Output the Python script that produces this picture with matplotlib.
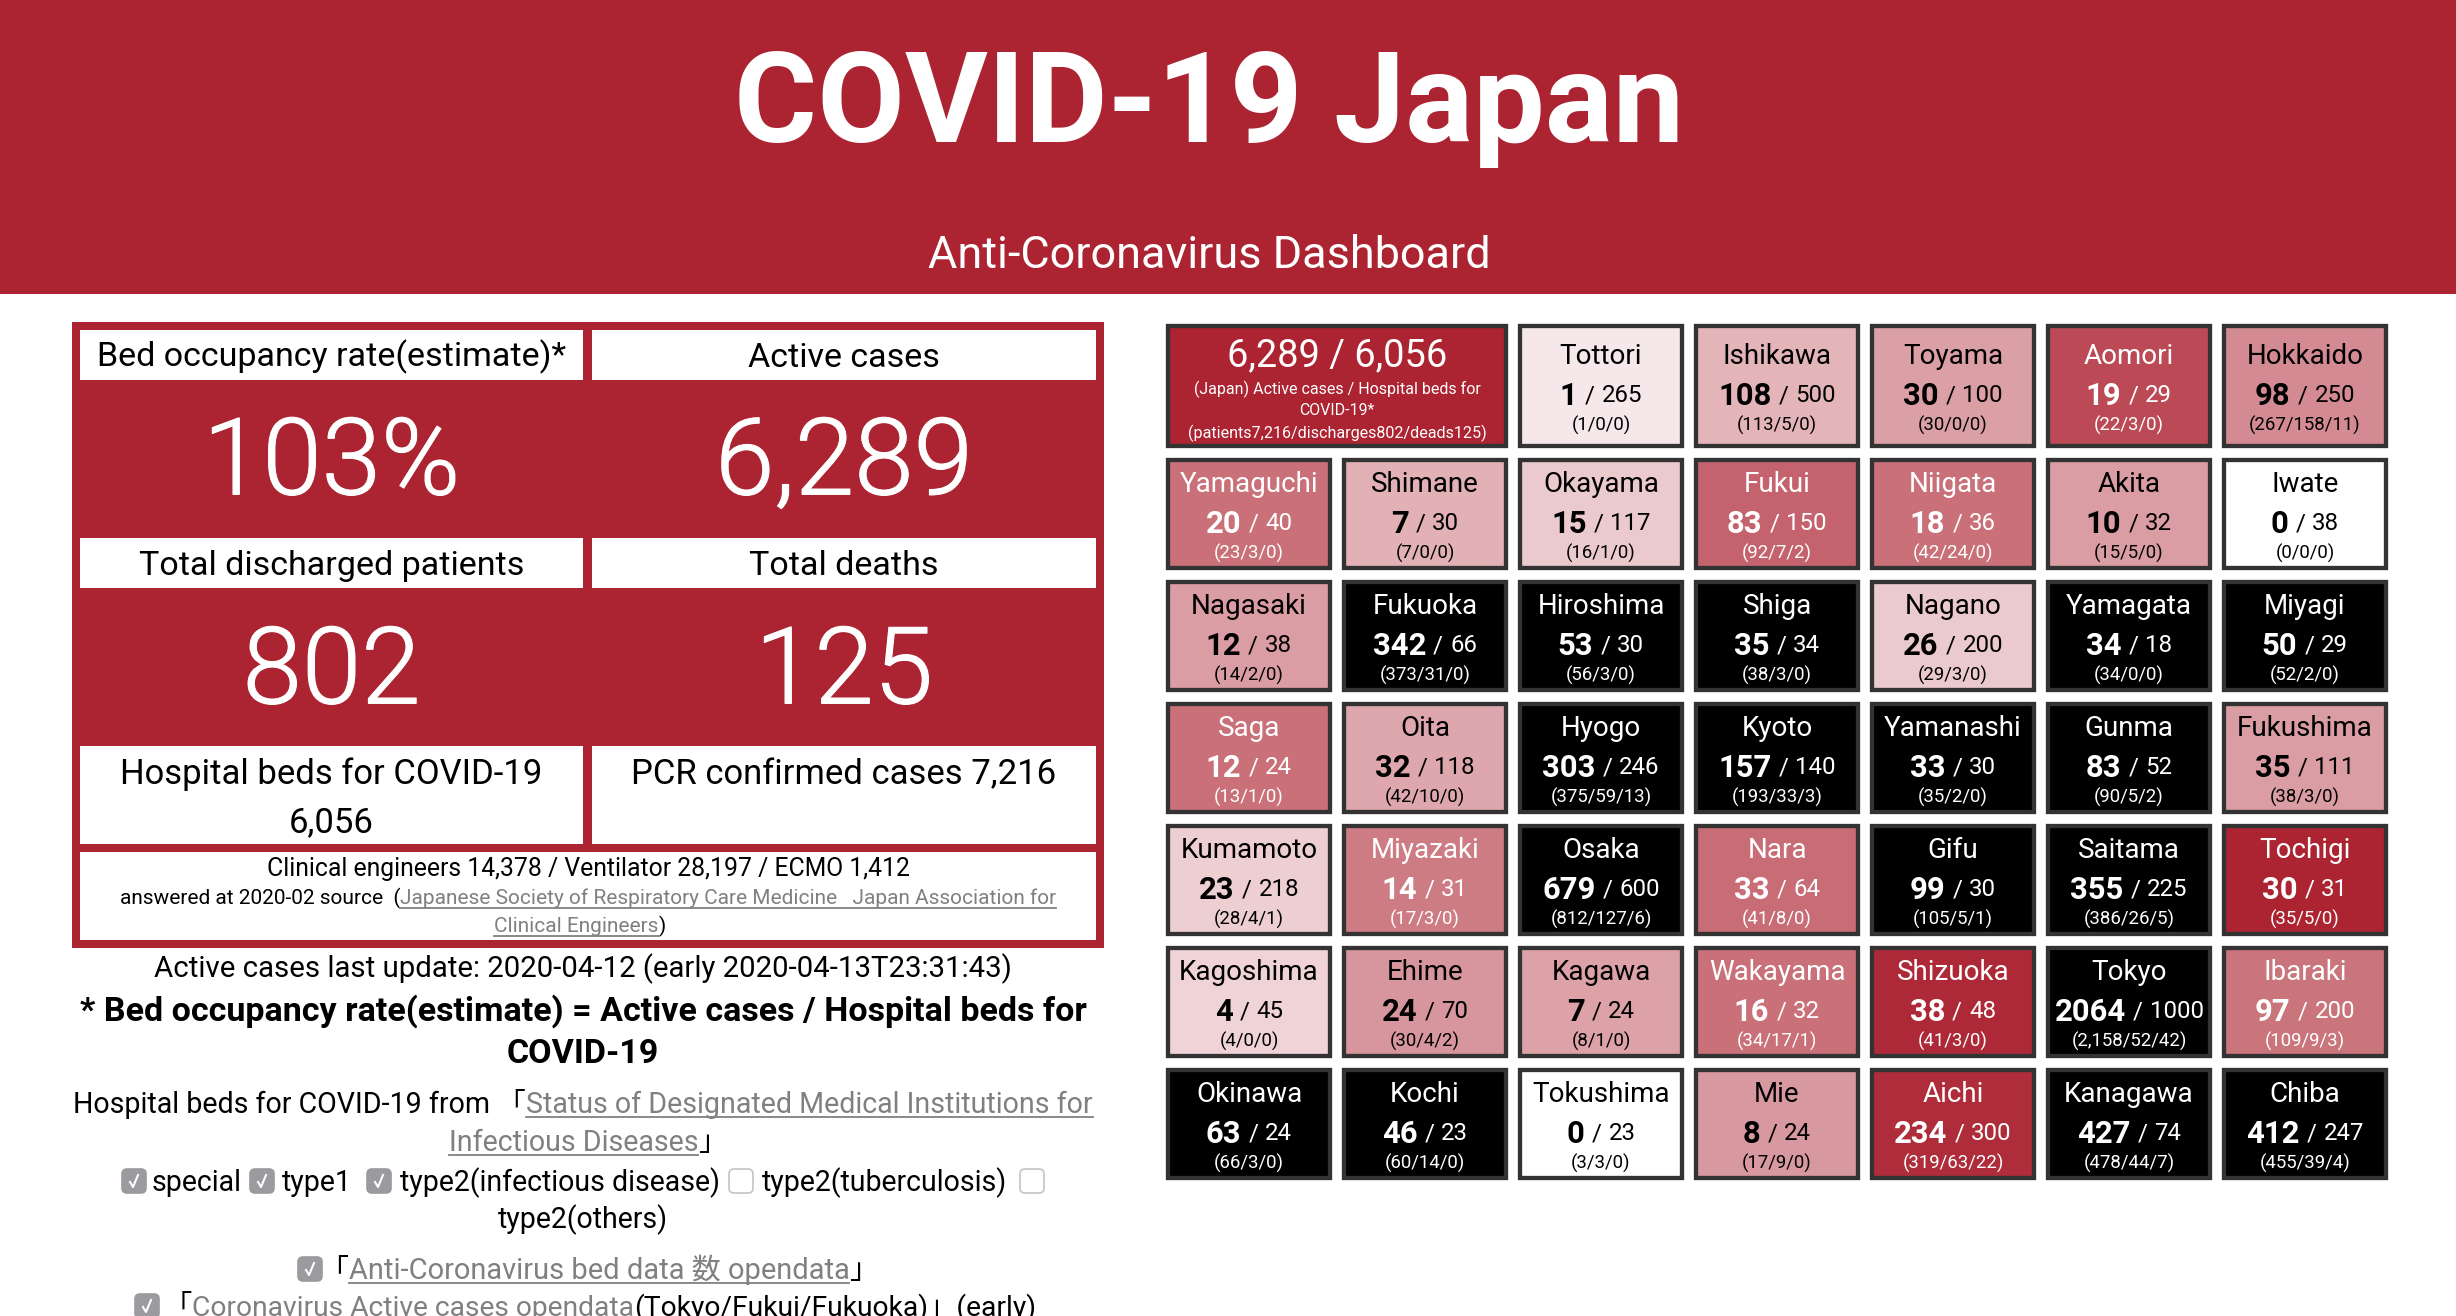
import matplotlib
matplotlib.use('Agg')
import matplotlib.pyplot as plt
import matplotlib.patheffects as pe
from matplotlib.patches import Rectangle, FancyBboxPatch

# prefecture tiles, row by row as on the page
names = [
    ['Tottori', 'Ishikawa', 'Toyama', 'Aomori', 'Hokkaido'],
    ['Yamaguchi', 'Shimane', 'Okayama', 'Fukui', 'Niigata', 'Akita', 'Iwate'],
    ['Nagasaki', 'Fukuoka', 'Hiroshima', 'Shiga', 'Nagano', 'Yamagata', 'Miyagi'],
    ['Saga', 'Oita', 'Hyogo', 'Kyoto', 'Yamanashi', 'Gunma', 'Fukushima'],
    ['Kumamoto', 'Miyazaki', 'Osaka', 'Nara', 'Gifu', 'Saitama', 'Tochigi'],
    ['Kagoshima', 'Ehime', 'Kagawa', 'Wakayama', 'Shizuoka', 'Tokyo', 'Ibaraki'],
    ['Okinawa', 'Kochi', 'Tokushima', 'Mie', 'Aichi', 'Kanagawa', 'Chiba'],
]
active = [
    [1, 108, 30, 19, 98],
    [20, 7, 15, 83, 18, 10, 0],
    [12, 342, 53, 35, 26, 34, 50],
    [12, 32, 303, 157, 33, 83, 35],
    [23, 14, 679, 33, 99, 355, 30],
    [4, 24, 7, 16, 38, 2064, 97],
    [63, 46, 0, 8, 234, 427, 412],
]
beds = [
    [265, 500, 100, 29, 250],
    [40, 30, 117, 150, 36, 32, 38],
    [38, 66, 30, 34, 200, 18, 29],
    [24, 118, 246, 140, 30, 52, 111],
    [218, 31, 600, 64, 30, 225, 31],
    [45, 70, 24, 32, 48, 1000, 200],
    [24, 23, 23, 24, 300, 74, 247],
]
details = [
    ['1/0/0', '113/5/0', '30/0/0', '22/3/0', '267/158/11'],
    ['23/3/0', '7/0/0', '16/1/0', '92/7/2', '42/24/0', '15/5/0', '0/0/0'],
    ['14/2/0', '373/31/0', '56/3/0', '38/3/0', '29/3/0', '34/0/0', '52/2/0'],
    ['13/1/0', '42/10/0', '375/59/13', '193/33/3', '35/2/0', '90/5/2', '38/3/0'],
    ['28/4/1', '17/3/0', '812/127/6', '41/8/0', '105/5/1', '386/26/5', '35/5/0'],
    ['4/0/0', '30/4/2', '8/1/0', '34/17/1', '41/3/0', '2,158/52/42', '109/9/3'],
    ['66/3/0', '60/14/0', '3/3/0', '17/9/0', '319/63/22', '478/44/7', '455/39/4'],
]

stat_labels = ['Bed occupancy rate(estimate)*', 'Active cases', 'Total discharged patients', 'Total deaths']
stat_values = ['103%', '6,289', '802', '125']

RED = '#ac2331'
EDGE = '#333333'
GREY = '#808080'
SANS = ['Roboto', 'Noto Sans CJK JP', 'DejaVu Sans']

fig = plt.figure(figsize=(24.56, 13.16), dpi=100)
ax = fig.add_axes([0, 0, 1, 1])
ax.set_xlim(0, 2456)
ax.set_ylim(1316, 0)
ax.axis('off')
renderer = fig.canvas.get_renderer()


def box(x0, y0, x1, y1, color, z=1):
    ax.add_patch(Rectangle((x0, y0), x1 - x0, y1 - y0, facecolor=color, edgecolor='none', zorder=z))


def put(x, y, s, px, color='black', weight='normal', ha='center', family=None):
    # y is the middle of the capitals, size in pixels
    return ax.text(x, y + 0.34 * px, s, fontsize=px * 0.72, color=color, fontweight=weight, ha=ha,
                   va='baseline', family=family or SANS, zorder=5)


def runs(xc, y, parts, gap=0):
    # parts: (text, px, color, weight, underline), laid out centred on xc
    items = []
    total = 0
    for text, px, color, weight, line in parts:
        t = put(0, y, text, px, color, weight, ha='left')
        w = t.get_window_extent(renderer).width
        items.append((t, w, px, color, line))
        total += w
    total += gap * (len(parts) - 1)
    x = xc - total / 2
    for t, w, px, color, line in items:
        t.set_x(x)
        if line:
            ax.plot([x, x + w], [y + 0.36 * px + 3.5] * 2, color=color, lw=1.3, zorder=5)
        x += w + gap


def checkbox(x, y, on=True):
    fc = '#9a9a9f' if on else 'white'
    ax.add_patch(FancyBboxPatch((x + 3, y - 9), 18, 18, boxstyle='round,pad=3,rounding_size=5',
                                facecolor=fc, edgecolor='#c4c4c4' if not on else fc, lw=1.2, zorder=5))
    if on:
        ax.plot([x + 8, x + 11, x + 16], [y + 1, y + 6, y - 6], color='white', lw=1.5, zorder=6)


# page header
box(0, 0, 2456, 294, RED)
put(1209, 99, 'COVID-19 Japan', 127, 'white', 'bold')
put(1209, 253, 'Anti-Coronavirus Dashboard', 45, 'white')

# left panel
box(72, 322, 1104, 948, RED)
col_x = [(80, 583), (592, 1096)]
label_rows = [(330, 380), (538, 588)]
value_y = [458, 667]
for i in range(2):
    for j in range(2):
        x0, x1 = col_x[j]
        y0, y1 = label_rows[i]
        box(x0, y0, x1, y1, 'white', 2)
        put((x0 + x1) / 2, (y0 + y1) / 2, stat_labels[i * 2 + j], 34)
        v = put((x0 + x1) / 2, value_y[i], stat_values[i * 2 + j], 107, 'white', 300)
        v.set_path_effects([pe.withStroke(linewidth=0.8, foreground='white')])
box(80, 746, 583, 844, 'white', 2)
box(592, 746, 1096, 844, 'white', 2)
put(331, 772, 'Hospital beds for COVID-19', 34.7)
put(331, 820, '6,056', 34.7)
put(844, 772, 'PCR confirmed cases 7,216', 34.7)
box(80, 852, 1096, 940, 'white', 2)
put(588, 868, 'Clinical engineers 14,378 / Ventilator 28,197 / ECMO 1,412', 24.8)
runs(588, 897, [('answered at 2020-02 source \u00a0(', 20.9, 'black', 'normal', False),
                ('Japanese Society of Respiratory Care Medicine \u00a0 Japan Association for', 20.9, GREY, 'normal', True)])
runs(580, 925, [('Clinical Engineers', 20.9, GREY, 'normal', True), (')', 20.9, 'black', 'normal', False)])

put(583, 967, 'Active cases last update: 2020-04-12 (early 2020-04-13T23:31:43)', 29.4)
put(583, 1009, '* Bed occupancy rate(estimate) = Active cases / Hospital beds for', 34, weight='bold')
put(583, 1051, 'COVID-19', 34, weight='bold')
runs(583, 1103, [('Hospital beds for COVID-19 from \u300c', 28.6, 'black', 'normal', False),
                 ('Status of Designated Medical Institutions for', 28.6, GREY, 'normal', True)])
runs(588, 1141, [('Infectious Diseases', 28.6, GREY, 'normal', True), ('\u300d', 28.6, 'black', 'normal', False)])

for x, on in [(122, True), (250, True), (367, True), (729, False), (1020, False)]:
    checkbox(x, 1181, on)
put(152, 1181, 'special', 28.5, ha='left')
put(282, 1181, 'type1', 28.5, ha='left')
put(400, 1181, 'type2(infectious disease)', 28.5, ha='left')
put(762, 1181, 'type2(tuberculosis)', 28.5, ha='left')
put(583, 1218, 'type2(others)', 28.5)

checkbox(298, 1269)
runs(599, 1269, [('\u300c', 29, 'black', 'normal', False),
                 ('Anti-Coronavirus bed data \u6570 opendata', 29, GREY, 'normal', True),
                 ('\u300d', 29, 'black', 'normal', False)])
checkbox(135, 1306)
runs(600, 1306, [('\u300c', 28.3, 'black', 'normal', False),
                 ('Coronavirus Active cases opendata', 28.3, GREY, 'normal', True),
                 ('(Tokyo/Fukui/Fukuoka)\u300d(early)', 28.3, 'black', 'normal', False)])

# tiles
X0, PITCH_X, W = 1166, 176, 166
Y_ROWS = [324, 458, 580, 702, 824, 946, 1068]
H = 112


def tile(x0, y0, x1, y1, face):
    ax.add_patch(Rectangle((x0 + 2, y0 + 2), x1 - x0 - 4, y1 - y0 - 4, facecolor=face,
                           edgecolor=EDGE, lw=3.1, zorder=2))


def tile_colors(n, b):
    rate = n / b
    if rate >= 1:
        return 'black', 'white'
    alpha = min(1.0, 0.1 + 1.1 * rate) if n else 0.0
    base = (0xac / 255, 0x23 / 255, 0x31 / 255)
    face = tuple(1 - alpha * (1 - c) for c in base)
    return face, 'white' if rate >= 0.45 else 'black'


# Japan total tile
tile(X0, 324, X0 + PITCH_X + W, 448, RED)
xc = X0 + (PITCH_X + W) / 2
put(xc, 353, '6,289 / 6,056', 38, 'white')
put(xc, 389, '(Japan) Active cases / Hospital beds for', 16, 'white')
put(xc, 410, 'COVID-19*', 16, 'white')
put(xc, 433, '(patients7,216/discharges802/deads125)', 16.1, 'white')

for r, row in enumerate(names):
    start = 2 if r == 0 else 0
    y0 = Y_ROWS[r]
    h = 124 if r == 0 else H
    off = 6 if r == 0 else 0
    for c, name in enumerate(row):
        x0 = X0 + (c + start) * PITCH_X
        face, fg = tile_colors(active[r][c], beds[r][c])
        tile(x0, y0, x0 + W, y0 + h, face)
        xc = x0 + W / 2
        put(xc, y0 + 25 + off, name, 27.8, fg)
        runs(xc, y0 + 64 + off, [(str(active[r][c]), 31, fg, 'bold', False),
                                 ('/', 24, fg, 'normal', False),
                                 (str(beds[r][c]), 24, fg, 'normal', False)], gap=7)
        put(xc, y0 + 94 + off, '(' + details[r][c] + ')', 18.6, fg)

fig.savefig('out.png', dpi=100, facecolor='white')
